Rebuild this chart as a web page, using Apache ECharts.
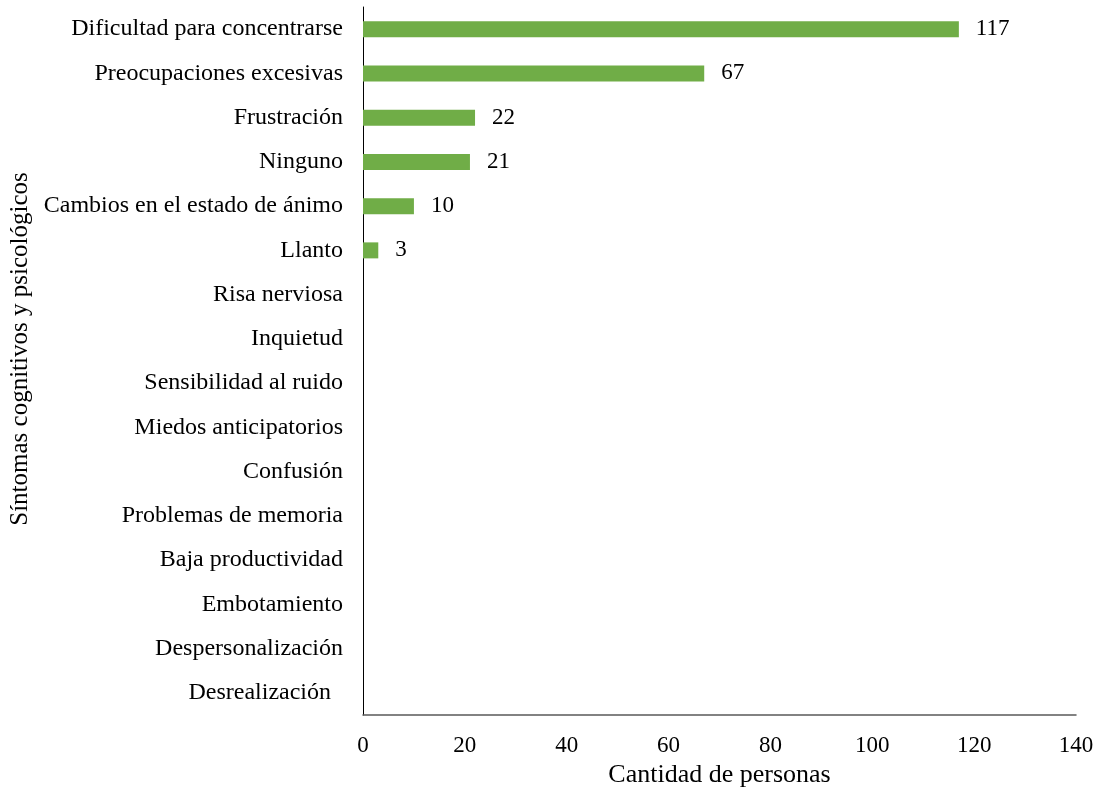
<!DOCTYPE html>
<html>
<head>
<meta charset="utf-8">
<script src="https://cdn.jsdelivr.net/npm/echarts@6/dist/echarts.min.js"></script>
<style>
  html, body { margin: 0; padding: 0; background: #fff; }
  #chart { width: 1101px; height: 796px; }
</style>
</head>
<body>
<div id="chart"></div>
<script>
// categories top -> bottom, as in the picture
var categories = [
  "Dificultad para concentrarse",
  "Preocupaciones excesivas",
  "Frustración",
  "Ninguno",
  "Cambios en el estado de ánimo",
  "Llanto",
  "Risa nerviosa",
  "Inquietud",
  "Sensibilidad al ruido",
  "Miedos anticipatorios",
  "Confusión",
  "Problemas de memoria",
  "Baja productividad",
  "Embotamiento",
  "Despersonalización",
  "Desrealización  "
];
var values = [117, 67, 22, 21, 10, 3, 0, 0, 0, 0, 0, 0, 0, 0, 0, 0];
var xTicks = [0, 20, 40, 60, 80, 100, 120, 140];

var myChart = echarts.init(document.getElementById("chart"));
var font = "'Liberation Serif', 'Times New Roman', serif";

var option = {
  backgroundColor: "#fff",
  animation: false,
  grid: {
    left: 363,
    right: 25,
    top: 7,
    bottom: 81,
    containLabel: false,
    outerBoundsMode: "none"
  },
  xAxis: {
    type: "value",
    min: xTicks[0],
    max: xTicks[xTicks.length - 1],
    interval: 20,
    name: "Cantidad de personas",
    nameLocation: "middle",
    nameGap: 47,
    nameTextStyle: { fontFamily: font, fontSize: 26, color: "#000" },
    axisLine: { show: true, lineStyle: { color: "#595959", width: 1.5 } },
    axisTick: { show: false },
    splitLine: { show: false },
    axisLabel: { fontFamily: font, fontSize: 23, color: "#000", margin: 19 }
  },
  yAxis: {
    type: "category",
    inverse: true,
    data: categories,
    name: "Síntomas cognitivos y psicológicos",
    nameLocation: "middle",
    nameGap: 325,
    nameTextStyle: { fontFamily: font, fontSize: 25, color: "#000", padding: [0, 0, 0, 24] },
    axisLine: { show: true, lineStyle: { color: "#000", width: 1 } },
    axisTick: { show: false },
    axisLabel: { fontFamily: font, fontSize: 24, color: "#000", margin: 20 }
  },
  series: [
    {
      type: "bar",
      data: values,
      barWidth: 16,
      itemStyle: { color: "#70AD47" },
      label: {
        show: true,
        position: "right",
        distance: 17,
        fontFamily: font,
        fontSize: 23,
        color: "#000",
        formatter: function (p) {
          return p.value > 0 ? p.value : "";
        }
      }
    }
  ]
};

option && myChart.setOption(option);
</script>
</body>
</html>
